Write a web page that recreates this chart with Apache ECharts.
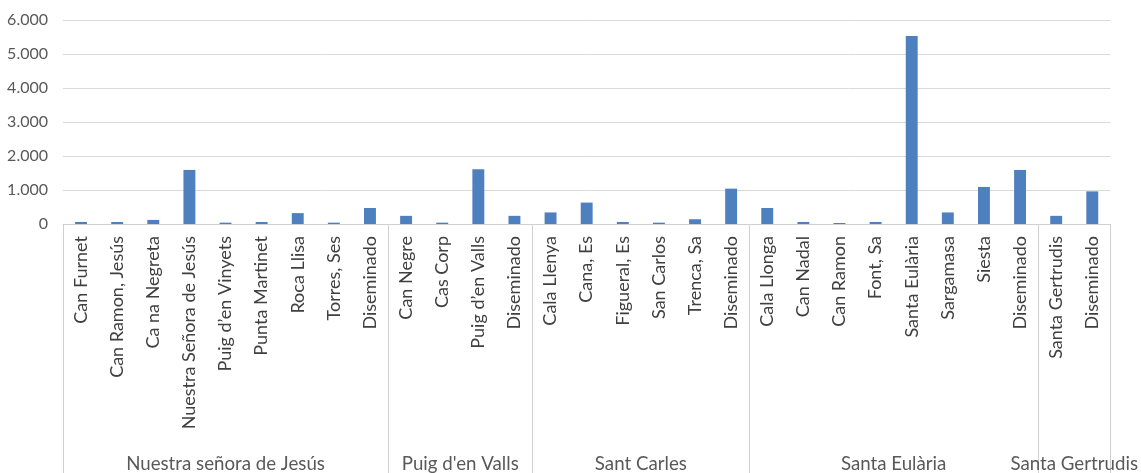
<!DOCTYPE html>
<html>
<head>
<meta charset="utf-8">
<script src="https://cdn.jsdelivr.net/npm/echarts@6/dist/echarts.min.js"></script>
<style>html,body{margin:0;padding:0;background:#fff;}#c{width:1141px;height:473px;}</style>
</head>
<body>
<div id="c"></div>
<script>
const categories = [
  'Can Furnet', 'Can Ramon, Jesús', 'Ca na Negreta', 'Nuestra Señora de Jesús', 'Puig d’en Vinyets',
  'Punta Martinet', 'Roca Llisa', 'Torres, Ses', 'Diseminado',
  'Can Negre', 'Cas Corp', 'Puig d’en Valls', 'Diseminado',
  'Cala Llenya', 'Cana, Es', 'Figueral, Es', 'San Carlos', 'Trenca, Sa', 'Diseminado',
  'Cala Llonga', 'Can Nadal', 'Can Ramon', 'Font, Sa', 'Santa Eulària', 'Sargamasa', 'Siesta', 'Diseminado',
  'Santa Gertrudis', 'Diseminado'
];
const values = [
  60, 60, 120, 1590, 40, 60, 320, 40, 470,
  240, 40, 1610, 240,
  340, 630, 60, 40, 140, 1040,
  470, 60, 30, 60, 5530, 340, 1090, 1590,
  240, 960
];
const groupNames = ['Nuestra señora de Jesús', "Puig d'en Valls", 'Sant Carles', 'Santa Eulària', 'Santa Gertrudis'];
const groupSizes = [9, 4, 6, 8, 2];
const yMax = 6000;
const yStep = 1000;

const boundaries = [];
const centers = [];
let acc = 0;
groupSizes.forEach(function (n) { boundaries.push(acc); centers.push(acc + n / 2); acc += n; });

const chart = echarts.init(document.getElementById('c'), null, {renderer: 'canvas'});
chart.setOption({
  animation: false,
  backgroundColor: '#ffffff',
  grid: {left: 63, right: 22, top: 20, bottom: 249, containLabel: false},
  xAxis: [
    {
      type: 'category',
      data: categories,
      position: 'bottom',
      axisLine: {show: true, lineStyle: {color: '#d0d0d0', width: 1}},
      axisTick: {
        show: true,
        length: 252,
        interval: function (index) { return boundaries.indexOf(index) >= 0; },
        lineStyle: {color: '#d0d0d0', width: 1}
      },
      axisLabel: {
        interval: 0, rotate: 90, margin: 12,
        color: '#404040', fontFamily: 'Lato', fontSize: 18
      }
    },
    {
      type: 'value',
      min: 0, max: acc, interval: 0.5,
      position: 'bottom',
      offset: 224,
      axisLine: {show: false},
      axisTick: {show: false},
      splitLine: {show: false},
      axisLabel: {
        show: true, margin: 6,
        color: '#595959', fontFamily: 'Lato', fontSize: 18.7,
        formatter: function (v) {
          for (let i = 0; i < centers.length; i++) {
            if (Math.abs(centers[i] - v) < 1e-6) return groupNames[i];
          }
          return '';
        }
      }
    }
  ],
  yAxis: {
    type: 'value',
    min: 0, max: yMax, interval: yStep,
    axisLine: {show: false},
    axisTick: {show: false},
    splitLine: {show: true, lineStyle: {color: '#d9d9d9', width: 1}},
    axisLabel: {
      margin: 15, color: '#595959', fontFamily: 'Lato', fontSize: 16,
      formatter: function (v) { return v.toString().replace(/\B(?=(\d{3})+(?!\d))/g, '.'); }
    }
  },
  series: [{
    type: 'bar',
    xAxisIndex: 0,
    data: values,
    barWidth: '33%',
    itemStyle: {color: '#4e7fbf'}
  }]
});
</script>
</body>
</html>
